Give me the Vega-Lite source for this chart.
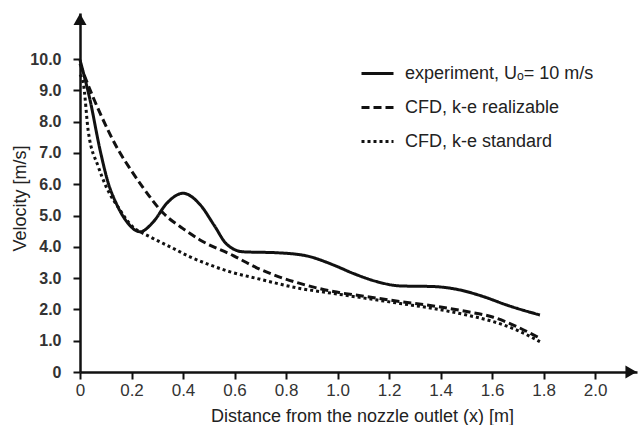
{
  "$schema": "https://vega.github.io/schema/vega-lite/v6.json",
  "autosize": "none",
  "width": 557,
  "height": 359,
  "padding": {"left": 80, "top": 13, "right": 3, "bottom": 53},
  "background": "white",
  "config": {
    "view": {"stroke": null},
    "font": "Liberation Sans"
  },
  "datasets": {
    "curves": [
      {"series": "experiment, Uₒ= 10 m/s", "x": 0.0, "v": 9.97},
      {"series": "experiment, Uₒ= 10 m/s", "x": 0.039, "v": 8.69},
      {"series": "experiment, Uₒ= 10 m/s", "x": 0.078, "v": 7.09},
      {"series": "experiment, Uₒ= 10 m/s", "x": 0.11, "v": 6.03},
      {"series": "experiment, Uₒ= 10 m/s", "x": 0.14, "v": 5.4},
      {"series": "experiment, Uₒ= 10 m/s", "x": 0.18, "v": 4.82},
      {"series": "experiment, Uₒ= 10 m/s", "x": 0.233, "v": 4.48},
      {"series": "experiment, Uₒ= 10 m/s", "x": 0.285, "v": 4.8},
      {"series": "experiment, Uₒ= 10 m/s", "x": 0.337, "v": 5.39},
      {"series": "experiment, Uₒ= 10 m/s", "x": 0.4, "v": 5.71},
      {"series": "experiment, Uₒ= 10 m/s", "x": 0.466, "v": 5.35},
      {"series": "experiment, Uₒ= 10 m/s", "x": 0.52, "v": 4.7},
      {"series": "experiment, Uₒ= 10 m/s", "x": 0.57, "v": 4.08},
      {"series": "experiment, Uₒ= 10 m/s", "x": 0.634, "v": 3.84},
      {"series": "experiment, Uₒ= 10 m/s", "x": 0.764, "v": 3.81},
      {"series": "experiment, Uₒ= 10 m/s", "x": 0.88, "v": 3.71},
      {"series": "experiment, Uₒ= 10 m/s", "x": 0.984, "v": 3.42},
      {"series": "experiment, Uₒ= 10 m/s", "x": 1.061, "v": 3.15},
      {"series": "experiment, Uₒ= 10 m/s", "x": 1.152, "v": 2.89},
      {"series": "experiment, Uₒ= 10 m/s", "x": 1.243, "v": 2.75},
      {"series": "experiment, Uₒ= 10 m/s", "x": 1.372, "v": 2.73},
      {"series": "experiment, Uₒ= 10 m/s", "x": 1.476, "v": 2.62},
      {"series": "experiment, Uₒ= 10 m/s", "x": 1.566, "v": 2.41},
      {"series": "experiment, Uₒ= 10 m/s", "x": 1.657, "v": 2.14},
      {"series": "experiment, Uₒ= 10 m/s", "x": 1.786, "v": 1.82},
      {"series": "CFD, k-e realizable", "x": 0.0, "v": 9.85},
      {"series": "CFD, k-e realizable", "x": 0.019, "v": 9.43},
      {"series": "CFD, k-e realizable", "x": 0.084, "v": 8.16},
      {"series": "CFD, k-e realizable", "x": 0.149, "v": 7.09},
      {"series": "CFD, k-e realizable", "x": 0.194, "v": 6.5},
      {"series": "CFD, k-e realizable", "x": 0.24, "v": 5.95},
      {"series": "CFD, k-e realizable", "x": 0.324, "v": 5.07},
      {"series": "CFD, k-e realizable", "x": 0.4, "v": 4.58},
      {"series": "CFD, k-e realizable", "x": 0.466, "v": 4.22},
      {"series": "CFD, k-e realizable", "x": 0.595, "v": 3.72},
      {"series": "CFD, k-e realizable", "x": 0.686, "v": 3.33},
      {"series": "CFD, k-e realizable", "x": 0.77, "v": 3.05},
      {"series": "CFD, k-e realizable", "x": 0.854, "v": 2.83},
      {"series": "CFD, k-e realizable", "x": 0.984, "v": 2.57},
      {"series": "CFD, k-e realizable", "x": 1.113, "v": 2.41},
      {"series": "CFD, k-e realizable", "x": 1.243, "v": 2.25},
      {"series": "CFD, k-e realizable", "x": 1.372, "v": 2.11},
      {"series": "CFD, k-e realizable", "x": 1.502, "v": 1.93},
      {"series": "CFD, k-e realizable", "x": 1.605, "v": 1.75},
      {"series": "CFD, k-e realizable", "x": 1.696, "v": 1.45},
      {"series": "CFD, k-e realizable", "x": 1.786, "v": 1.08},
      {"series": "CFD, k-e standard", "x": 0.0, "v": 9.5},
      {"series": "CFD, k-e standard", "x": 0.013, "v": 9.22},
      {"series": "CFD, k-e standard", "x": 0.032, "v": 7.7},
      {"series": "CFD, k-e standard", "x": 0.071, "v": 6.56},
      {"series": "CFD, k-e standard", "x": 0.1, "v": 5.95},
      {"series": "CFD, k-e standard", "x": 0.155, "v": 5.18},
      {"series": "CFD, k-e standard", "x": 0.194, "v": 4.73},
      {"series": "CFD, k-e standard", "x": 0.272, "v": 4.32},
      {"series": "CFD, k-e standard", "x": 0.35, "v": 4.0},
      {"series": "CFD, k-e standard", "x": 0.427, "v": 3.68},
      {"series": "CFD, k-e standard", "x": 0.505, "v": 3.42},
      {"series": "CFD, k-e standard", "x": 0.583, "v": 3.2},
      {"series": "CFD, k-e standard", "x": 0.686, "v": 2.99},
      {"series": "CFD, k-e standard", "x": 0.854, "v": 2.67},
      {"series": "CFD, k-e standard", "x": 0.984, "v": 2.51},
      {"series": "CFD, k-e standard", "x": 1.113, "v": 2.35},
      {"series": "CFD, k-e standard", "x": 1.243, "v": 2.19},
      {"series": "CFD, k-e standard", "x": 1.372, "v": 2.03},
      {"series": "CFD, k-e standard", "x": 1.502, "v": 1.82},
      {"series": "CFD, k-e standard", "x": 1.605, "v": 1.61},
      {"series": "CFD, k-e standard", "x": 1.696, "v": 1.34},
      {"series": "CFD, k-e standard", "x": 1.786, "v": 0.97}
    ],
    "arrows": [
      {"x": 2.14, "v": 0, "shape": "triangle-right"},
      {"x": 0, "v": 11.27, "shape": "triangle-up"}
    ]
  },
  "encoding": {
    "x": {
      "field": "x", "type": "quantitative",
      "scale": {"domain": [0, 2.163], "nice": false, "zero": false},
      "axis": {
        "values": [0, 0.2, 0.4, 0.6, 0.8, 1.0, 1.2, 1.4, 1.6, 1.8, 2.0],
        "labelExpr": "datum.value == 0 ? '0' : format(datum.value, '.1f')",
        "grid": false,
        "domainColor": "#111", "domainWidth": 2.5,
        "tickColor": "#111", "tickWidth": 2, "tickSize": 7,
        "labelFontSize": 17, "labelColor": "#333", "labelPadding": 3,
        "labelFlush": false, "labelOverlap": false,
        "title": "Distance from the nozzle outlet (x) [m]",
        "titleFontSize": 18, "titleFontWeight": "normal", "titleColor": "#222",
        "titleX": 282, "titleY": 49, "titleBaseline": "alphabetic", "titleAlign": "center", "titleAnchor": null
      }
    },
    "y": {
      "field": "v", "type": "quantitative",
      "scale": {"domain": [0, 11.47], "nice": false, "zero": false},
      "axis": {
        "values": [0, 1, 2, 3, 4, 5, 6, 7, 8, 9, 10],
        "labelExpr": "datum.value == 0 ? '0' : format(datum.value, '.1f')",
        "grid": false,
        "domainColor": "#111", "domainWidth": 2.5,
        "tickColor": "#111", "tickWidth": 2, "tickSize": 7,
        "labelFontSize": 16, "labelFontWeight": "bold", "labelColor": "#333", "labelPadding": 12,
        "labelFlush": false, "labelOverlap": false, "labelBound": false,
        "title": "Velocity [m/s]",
        "titleFontSize": 18, "titleFontWeight": "normal", "titleColor": "#222",
        "titleX": -60, "titleY": 185, "titleBaseline": "middle", "titleAlign": "center", "titleAngle": -90
      }
    }
  },
  "layer": [
    {
      "data": {"name": "curves"},
      "mark": {"type": "line", "interpolate": "monotone", "strokeWidth": 3, "color": "#111"},
      "encoding": {
        "strokeDash": {
          "field": "series", "type": "nominal",
          "scale": {
            "domain": ["experiment, Uₒ= 10 m/s", "CFD, k-e realizable", "CFD, k-e standard"],
            "range": [[1, 0], [8, 4], [3, 3]]
          },
          "legend": {
            "title": null,
            "orient": "none",
            "legendX": 280,
            "legendY": 43,
            "padding": 0,
            "symbolType": "stroke",
            "symbolSize": 1024,
            "symbolStrokeWidth": 3,
            "symbolStrokeColor": "#111",
            "labelFontSize": 18,
            "labelColor": "#222",
            "labelOffset": 10,
            "rowPadding": 7,
            "labelLimit": 300
          }
        }
      }
    },
    {
      "data": {"name": "arrows"},
      "mark": {"type": "point", "filled": true, "size": 170, "color": "#111", "opacity": 1},
      "encoding": {
        "shape": {"field": "shape", "type": "nominal", "scale": null, "legend": null}
      }
    }
  ]
}
